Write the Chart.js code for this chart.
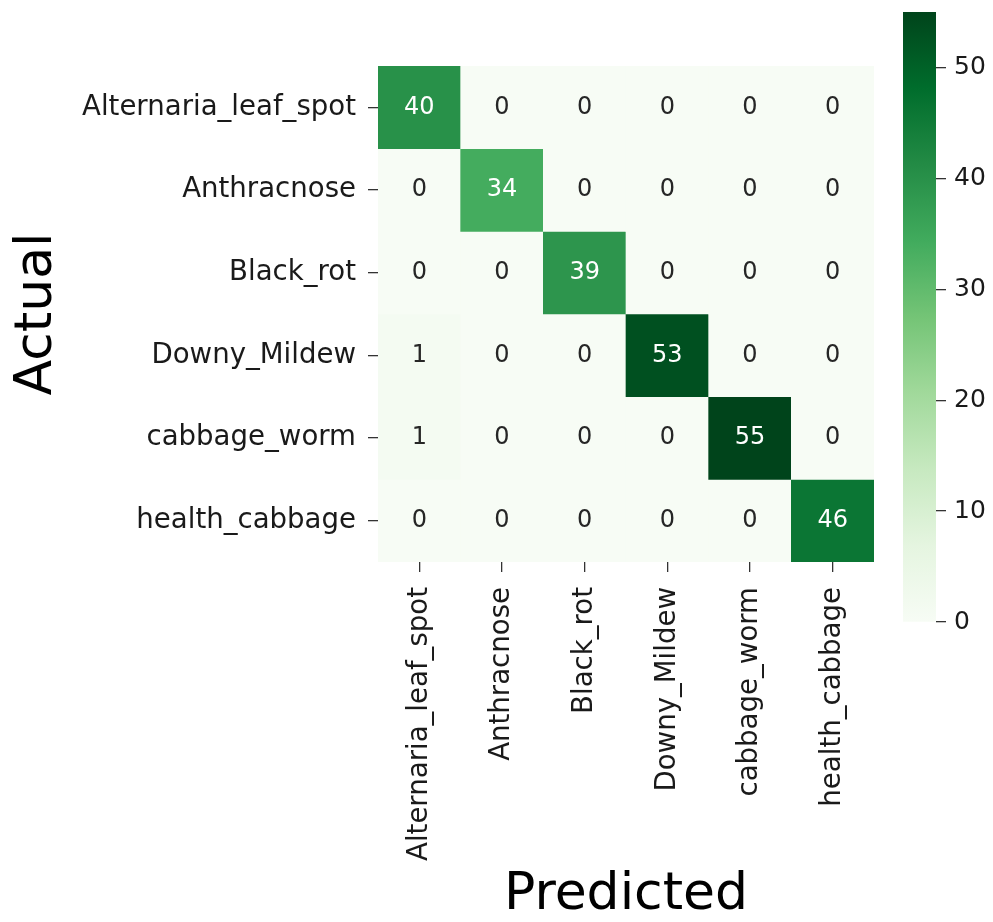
<!DOCTYPE html>
<html>
<head>
<meta charset="utf-8">
<script src="https://cdn.jsdelivr.net/npm/chart.js@4.4.1/dist/chart.umd.min.js"></script>
<style>
  html, body { margin: 0; padding: 0; background: #ffffff; }
  #wrap { position: relative; width: 993px; height: 922px; }
  #heatmap { position: absolute; left: 0; top: 0; }
  #colorbar { position: absolute; left: 880px; top: 0; }
</style>
</head>
<body>
<div id="wrap">
  <canvas id="heatmap" width="890" height="922"></canvas>
  <canvas id="colorbar" width="113" height="922"></canvas>
</div>
<script>
// confusion matrix: rows = actual class, columns = predicted class
const actualLabels = ["Alternaria_leaf_spot", "Anthracnose", "Black_rot", "Downy_Mildew", "cabbage_worm", "health_cabbage"];
const predictedLabels = ["Alternaria_leaf_spot", "Anthracnose", "Black_rot", "Downy_Mildew", "cabbage_worm", "health_cabbage"];
const matrix = [
    [40, 0, 0, 0, 0, 0],
    [0, 34, 0, 0, 0, 0],
    [0, 0, 39, 0, 0, 0],
    [1, 0, 0, 53, 0, 0],
    [1, 0, 0, 0, 55, 0],
    [0, 0, 0, 0, 0, 46]
];
const colorbarTicks = [0, 10, 20, 30, 40, 50];
const vmin = 0;
const vmax = 55;

// matplotlib "Greens"
const greensStops = ["#f7fcf5", "#e5f5e0", "#c7e9c0", "#a1d99b", "#74c476", "#41ab5d", "#238b45", "#006d2c", "#00441b"];
const FONT = "'DejaVu Sans', 'Liberation Sans', sans-serif";

function hexToRgb(h) {
    return [parseInt(h.slice(1, 3), 16), parseInt(h.slice(3, 5), 16), parseInt(h.slice(5, 7), 16)];
}

function greensRgb(v) {
    let t = (v - vmin) / (vmax - vmin);
    t = Math.max(0, Math.min(1, t)) * (greensStops.length - 1);
    const i = Math.min(Math.floor(t), greensStops.length - 2);
    const f = t - i;
    const a = hexToRgb(greensStops[i]), b = hexToRgb(greensStops[i + 1]);
    return a.map((c, k) => Math.round(c + (b[k] - c) * f));
}

function greens(v) {
    const c = greensRgb(v);
    return "rgb(" + c.join(",") + ")";
}

// same rule seaborn uses to pick annotation colour
function textColorFor(v) {
    const lin = greensRgb(v).map(c => {
        c = c / 255;
        return c <= 0.03928 ? c / 12.92 : Math.pow((c + 0.055) / 1.055, 2.4);
    });
    const lum = 0.2126 * lin[0] + 0.7152 * lin[1] + 0.0722 * lin[2];
    return lum > 0.408 ? "#262626" : "#ffffff";
}

// one floating-bar dataset per actual row, each bar spans one cell
const datasets = matrix.map((row, r) => ({
    label: actualLabels[r],
    data: row.map(() => [r - 0.5, r + 0.5]),
    backgroundColor: row.map(v => greens(v)),
    borderWidth: 0,
    barPercentage: 1,
    categoryPercentage: 1,
    grouped: false
}));

const annotations = {
    id: "annotations",
    afterDatasetsDraw(chart) {
        const { ctx, scales } = chart;
        ctx.save();
        ctx.font = "24px " + FONT;
        ctx.textAlign = "center";
        ctx.textBaseline = "middle";
        matrix.forEach((row, r) => {
            row.forEach((v, c) => {
                ctx.fillStyle = textColorFor(v);
                ctx.fillText(String(v), scales.x.getPixelForValue(c), scales.y.getPixelForValue(r));
            });
        });
        ctx.restore();
    }
};

new Chart(document.getElementById("heatmap").getContext("2d"), {
    type: "bar",
    data: { labels: predictedLabels, datasets: datasets },
    options: {
        responsive: false,
        animation: false,
        layout: { padding: { top: 66, right: 16, bottom: 0, left: 0 } },
        plugins: { legend: { display: false }, tooltip: { enabled: false } },
        scales: {
            x: {
                type: "category",
                offset: true,
                border: { display: false },
                grid: { offset: false, drawOnChartArea: false, drawTicks: true, tickLength: 10, tickColor: "#333333", lineWidth: 1.3 },
                ticks: { color: "#1a1a1a", font: { family: FONT, size: 27.6 }, minRotation: 90, maxRotation: 90, padding: 15, autoSkip: false },
                title: { display: true, text: "Predicted", color: "#000000", font: { family: FONT, size: 52 }, padding: { top: 0, bottom: -5 } },
                afterFit(scale) { scale.height = 360; }
            },
            y: {
                type: "linear",
                min: -0.5,
                max: 5.5,
                reverse: true,
                border: { display: false },
                grid: { drawOnChartArea: false, drawTicks: true, tickLength: 10, tickColor: "#333333", lineWidth: 1.3 },
                ticks: { color: "#1a1a1a", font: { family: FONT, size: 27.6 }, padding: 12, callback: v => actualLabels[v] },
                afterBuildTicks(scale) { scale.ticks = actualLabels.map((_, i) => ({ value: i })); },
                title: { display: true, text: "Actual", color: "#000000", font: { family: FONT, size: 52 }, padding: { top: 6, bottom: 0 } },
                afterFit(scale) { scale.width = 378; }
            }
        }
    },
    plugins: [annotations]
});

// colour scale bar
new Chart(document.getElementById("colorbar").getContext("2d"), {
    type: "bar",
    data: {
        labels: [""],
        datasets: [{
            data: [[vmin, vmax]],
            borderWidth: 0,
            barPercentage: 1,
            categoryPercentage: 1,
            backgroundColor(context) {
                const chart = context.chart;
                if (!chart.chartArea) return greensStops[4];
                const y = chart.scales.y;
                const g = chart.ctx.createLinearGradient(0, y.getPixelForValue(vmin), 0, y.getPixelForValue(vmax));
                greensStops.forEach((c, i) => g.addColorStop(i / (greensStops.length - 1), c));
                return g;
            }
        }]
    },
    options: {
        responsive: false,
        animation: false,
        layout: { padding: { top: 12, right: 0, bottom: 300, left: 23 } },
        plugins: { legend: { display: false }, tooltip: { enabled: false } },
        scales: {
            x: { display: false },
            y: {
                position: "right",
                min: vmin,
                max: vmax,
                border: { display: false },
                grid: { drawOnChartArea: false, drawTicks: true, tickLength: 10, tickColor: "#333333", lineWidth: 1.3 },
                ticks: { color: "#1a1a1a", font: { family: FONT, size: 25 }, padding: 8 },
                afterBuildTicks(scale) { scale.ticks = colorbarTicks.map(v => ({ value: v })); },
                afterFit(scale) {
                    scale.width = 57;
                    scale.paddingTop = 0;
                    scale.paddingBottom = 0;
                }
            }
        }
    }
});
</script>
</body>
</html>
